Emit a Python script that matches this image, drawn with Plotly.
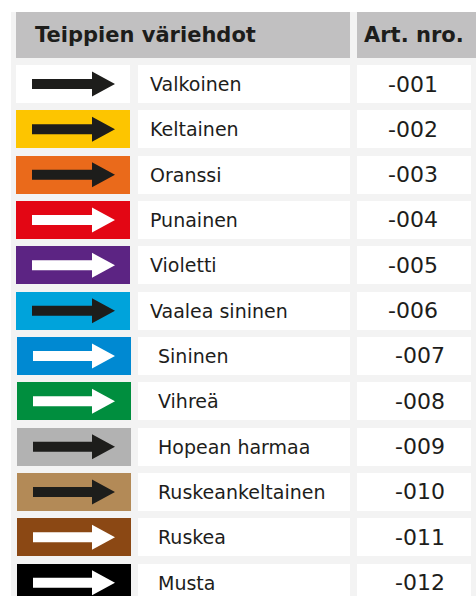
import plotly.graph_objects as go

# ---------------- data ----------------
header_left = "Teippien väriehdot"
header_right = "Art. nro."
names = ["Valkoinen", "Keltainen", "Oranssi", "Punainen", "Violetti", "Vaalea sininen",
         "Sininen", "Vihreä", "Hopean harmaa", "Ruskeankeltainen", "Ruskea", "Musta"]
art_numbers = ["-001", "-002", "-003", "-004", "-005", "-006",
               "-007", "-008", "-009", "-010", "-011", "-012"]
tape_colors = ["#ffffff", "#fdc500", "#ea6a1b", "#e30614", "#5c2483", "#00a3db",
               "#0089d2", "#008e3e", "#b2b2b2", "#b38a57", "#8b4814", "#000000"]
arrow_colors = ["#1d1d1b", "#1d1d1b", "#1d1d1b", "#ffffff", "#ffffff", "#1d1d1b",
                "#ffffff", "#ffffff", "#1d1d1b", "#1d1d1b", "#ffffff", "#ffffff"]

# ---------------- layout constants (pixel space) ----------------
W, H = 476, 596
ROW0_CENTER = 84
PITCH = 45.33
ROW_H = 38
HDR_C, HDR_H = 35, 46
TXT = "#1d1d1b"
FONT = "DejaVu Sans"

n = len(names)
centers = [ROW0_CENTER + i * PITCH for i in range(n)]
shift = [0 if i < 6 else 1 for i in range(n)]          # lower block sits slightly right
text_shift = [0 if i < 6 else 8 for i in range(n)]
num_shift = [0 if i < 6 else 7 for i in range(n)]

fig = go.Figure()

# header cells
fig.add_trace(go.Bar(orientation="h", y=[HDR_C, HDR_C], base=[16, 357], x=[334, 119],
                     width=HDR_H, marker=dict(color="#c1c0c1", line_width=0),
                     hoverinfo="skip", showlegend=False))
# colour cells
fig.add_trace(go.Bar(orientation="h", y=centers, base=[16 + s for s in shift],
                     x=[114] * n, width=ROW_H,
                     marker=dict(color=tape_colors, line_width=0),
                     hoverinfo="skip", showlegend=False))
# name cells
fig.add_trace(go.Bar(orientation="h", y=centers, base=[138] * n, x=[212] * n, width=ROW_H,
                     marker=dict(color="#ffffff", line_width=0),
                     hoverinfo="skip", showlegend=False))
# number cells
fig.add_trace(go.Bar(orientation="h", y=centers, base=[357] * n, x=[114] * n, width=ROW_H,
                     marker=dict(color="#ffffff", line_width=0),
                     hoverinfo="skip", showlegend=False))

shapes = [dict(type="rect", x0=11, x1=W, y0=12, y1=H, fillcolor="#f3f3f3",
               line_width=0, layer="below", xref="x", yref="y")]
for i, c in enumerate(centers):
    x0 = 32 + shift[i]
    path = (f"M {x0},{c-5} L 92,{c-5} L 92,{c-12.5} L 115,{c} L 92,{c+12.5} "
            f"L 92,{c+5} L {x0},{c+5} Z")
    shapes.append(dict(type="path", path=path, fillcolor=arrow_colors[i], line_width=0,
                       xref="x", yref="y", layer="above"))

annotations = [
    dict(x=33, y=HDR_C, text=header_left, xanchor="left", yanchor="middle", showarrow=False,
         font=dict(family=FONT, size=21, color=TXT, weight="bold")),
    dict(x=414, y=HDR_C, text=header_right, xanchor="center", yanchor="middle", showarrow=False,
         font=dict(family=FONT, size=21, color=TXT, weight="bold")),
]
for i, c in enumerate(centers):
    annotations.append(dict(x=148 + text_shift[i], y=c, text=names[i], xanchor="left",
                            yanchor="middle", showarrow=False,
                            font=dict(family=FONT, size=19, color=TXT)))
    annotations.append(dict(x=413 + num_shift[i], y=c, text=art_numbers[i], xanchor="center",
                            yanchor="middle", showarrow=False,
                            font=dict(family=FONT, size=22, color=TXT)))

fig.update_layout(
    width=W, height=H, margin=dict(l=0, r=0, t=0, b=0),
    paper_bgcolor="#ffffff", plot_bgcolor="#ffffff",
    barmode="overlay", bargap=0,
    xaxis=dict(range=[0, W], visible=False, fixedrange=True),
    yaxis=dict(range=[H, 0], visible=False, fixedrange=True),
    shapes=shapes, annotations=annotations,
)

fig.write_html("out.html", config={"displayModeBar": False},
               post_script="document.body.style.margin='0';document.body.style.overflow='hidden';")
